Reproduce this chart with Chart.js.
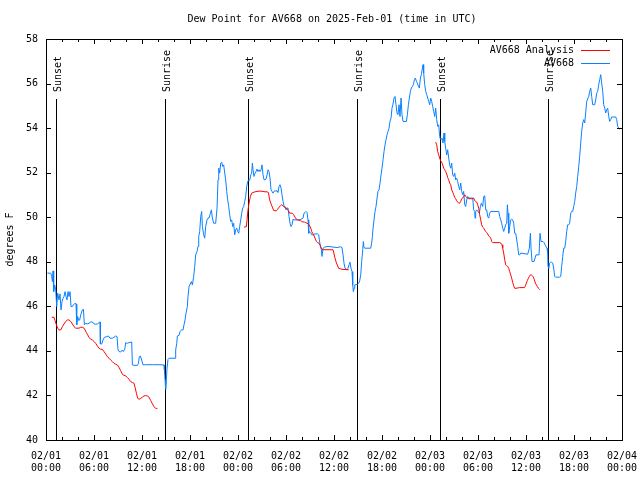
<!DOCTYPE html>
<html>
<head>
<meta charset="utf-8">
<title>Dew Point for AV668</title>
<script src="https://cdn.jsdelivr.net/npm/chart.js@4.4.1/dist/chart.umd.min.js"></script>
<style>
    html, body { margin: 0; padding: 0; background: #fff; }
</style>
</head>
<body>
<canvas id="dewChart" width="640" height="480"></canvas>
<script>
// =======================================
// Dew point chart, gnuplot look
// x values are hours after 02/01 00:00 UTC
// =======================================

const tickDates = ['02/01', '02/01', '02/01', '02/01', '02/02', '02/02', '02/02', '02/02', '02/03', '02/03', '02/03', '02/03', '02/04'];
const tickTimes = ['00:00', '06:00', '12:00', '18:00', '00:00', '06:00', '12:00', '18:00', '00:00', '06:00', '12:00', '18:00', '00:00'];

const sunHours = [1.25, 14.9, 25.25, 38.9, 49.25, 62.75];
const sunLabels = ['Sunset', 'Sunrise', 'Sunset', 'Sunrise', 'Sunset', 'Sunrise'];

// station observations [hour, degF]
const obsSeries = [
    [0.17, 47.49], [0.59, 47.49], [0.71, 47.34], [0.80, 47.11], [0.88, 47.59], [0.96, 46.66], [1.09, 46.96], [1.21, 46.74],
    [1.34, 45.99], [1.46, 46.59], [1.63, 46.29], [1.75, 46.56], [1.88, 45.84], [2.0, 46.21], [2.13, 46.36], [2.25, 46.44],
    [2.38, 46.66], [2.5, 46.44], [2.63, 46.29], [2.75, 46.66], [2.88, 46.44], [3.0, 46.66], [3.13, 45.99], [3.30, 45.99],
    [3.42, 46.06], [3.63, 46.14], [3.75, 46.11], [3.84, 45.17], [3.96, 45.54], [4.09, 45.36], [4.21, 45.39], [4.34, 45.62],
    [4.55, 45.84], [4.67, 45.87], [4.80, 45.17], [4.96, 45.24], [5.17, 45.21], [5.38, 45.24], [5.59, 45.30], [5.80, 45.30],
    [6.0, 45.21], [6.21, 45.20], [6.42, 45.21], [6.63, 45.27], [6.75, 45.30], [6.80, 44.31], [6.96, 44.31], [7.13, 44.49],
    [7.30, 44.61], [7.59, 44.64], [7.80, 44.67], [8.0, 44.57], [8.30, 44.57], [8.50, 44.61], [8.71, 44.67], [8.88, 44.64],
    [9.0, 44.04], [9.13, 43.97], [9.34, 43.95], [9.55, 44.04], [9.67, 43.97], [9.84, 44.07], [9.96, 44.37], [10.17, 44.34],
    [10.38, 44.37], [10.71, 44.40], [10.80, 43.37], [11.0, 43.35], [11.42, 43.35], [11.55, 43.44], [11.67, 43.74], [11.8, 43.77],
    [11.96, 43.59], [12.13, 43.37], [12.46, 43.38], [13.3, 43.38], [14.13, 43.38], [14.75, 43.37], [14.8, 43.14], [14.88, 42.70],
    [14.96, 42.28], [15.05, 42.70], [15.13, 43.22], [15.25, 43.62], [15.38, 43.67], [16.13, 43.67], [16.21, 44.04], [16.34, 44.34],
    [16.42, 44.67], [16.63, 44.70], [16.75, 44.87], [16.96, 44.94], [17.13, 44.94], [17.25, 45.17], [17.38, 45.39], [17.5, 45.69],
    [17.67, 45.99], [17.75, 46.44], [17.88, 46.89], [18.17, 47.11], [18.3, 46.96], [18.46, 47.34], [18.59, 47.79], [18.71, 48.31],
    [18.88, 48.46], [19.0, 48.69], [19.09, 49.13], [19.21, 49.36], [19.34, 50.03], [19.46, 50.26], [19.55, 49.58], [19.71, 49.21],
    [19.84, 49.06], [19.96, 49.58], [20.13, 49.88], [20.25, 49.96], [20.38, 49.96], [20.55, 50.18], [20.67, 50.33], [20.8, 49.96],
    [20.96, 49.73], [21.21, 49.73], [21.38, 50.41], [21.5, 51.68], [21.59, 52.20], [21.71, 51.98], [21.84, 52.43], [21.96, 52.47],
    [22.09, 52.28], [22.21, 52.35], [22.34, 51.98], [22.46, 51.68], [22.59, 51.16], [22.71, 50.78], [22.84, 50.48], [22.96, 50.11],
    [23.09, 49.81], [23.21, 49.88], [23.34, 49.58], [23.46, 49.73], [23.59, 49.21], [23.71, 49.43], [23.84, 49.51], [23.96, 49.36],
    [24.09, 49.28], [24.21, 49.58], [24.34, 49.88], [24.46, 50.18], [24.59, 50.41], [24.71, 50.48], [24.84, 50.71], [24.96, 50.93],
    [25.09, 51.38], [25.21, 51.60], [25.34, 51.68], [25.46, 51.65], [25.59, 51.90], [25.71, 51.98], [25.8, 52.43], [25.88, 52.13],
    [26.0, 51.83], [26.13, 51.98], [26.25, 52.05], [26.38, 52.16], [26.5, 52.05], [26.63, 52.13], [26.75, 52.05], [26.88, 52.13],
    [27.0, 52.35], [27.13, 51.90], [27.25, 51.68], [27.38, 51.68], [27.5, 51.71], [27.63, 51.90], [27.75, 52.13], [27.88, 52.05],
    [28.0, 51.75], [28.13, 51.23], [28.25, 51.16], [28.38, 51.08], [28.5, 51.16], [28.63, 51.19], [28.75, 51.16], [28.88, 51.20],
    [29.0, 51.11], [29.13, 51.38], [29.25, 51.46], [29.38, 51.31], [29.5, 51.01], [29.63, 50.71], [29.75, 50.51], [29.88, 50.45],
    [30.0, 50.33], [30.13, 50.41], [30.25, 50.41], [30.38, 50.03], [30.5, 49.73], [30.63, 49.58], [30.75, 49.66], [30.88, 49.91],
    [31.0, 49.88], [31.63, 49.88], [31.88, 49.91], [32.13, 49.96], [32.25, 50.18], [32.38, 50.21], [32.5, 50.26], [32.63, 50.21],
    [32.75, 49.88], [32.84, 49.28], [32.96, 49.36], [33.09, 49.31], [33.21, 49.21], [33.46, 49.21], [33.59, 49.25], [33.96, 49.25],
    [34.09, 49.21], [34.17, 48.98], [34.3, 48.69], [34.42, 48.54], [34.5, 48.24], [34.63, 48.61], [34.84, 48.66], [35.25, 48.69],
    [35.88, 48.66], [36.38, 48.64], [36.8, 48.67], [37.0, 48.64], [37.13, 48.31], [37.25, 47.94], [37.38, 47.71], [37.63, 47.64],
    [37.75, 47.71], [37.88, 47.86], [38.0, 47.98], [38.13, 47.71], [38.25, 47.56], [38.34, 46.96], [38.42, 46.66], [38.5, 46.81],
    [38.59, 46.96], [38.96, 46.99], [39.09, 47.04], [39.21, 47.14], [39.34, 47.41], [39.46, 48.01], [39.59, 48.54], [39.67, 48.91],
    [39.75, 48.64], [39.88, 48.61], [40.59, 48.61], [40.71, 48.84], [40.8, 49.13], [40.88, 49.51], [41.0, 49.88], [41.13, 50.26],
    [41.25, 50.48], [41.38, 50.86], [41.5, 51.16], [41.63, 51.23], [41.75, 51.53], [41.88, 51.90], [42.0, 52.20], [42.13, 52.58],
    [42.25, 52.95], [42.38, 53.25], [42.5, 53.48], [42.63, 53.70], [42.75, 53.85], [42.88, 54.00], [43.0, 54.30], [43.13, 54.45],
    [43.25, 54.90], [43.38, 55.08], [43.5, 55.35], [43.63, 55.42], [43.75, 55.05], [43.88, 54.68], [44.0, 54.60], [44.13, 55.05],
    [44.25, 54.52], [44.38, 55.35], [44.5, 54.60], [44.63, 54.30], [45.05, 54.30], [45.17, 54.60], [45.3, 55.05], [45.42, 55.35],
    [45.55, 55.65], [45.67, 55.80], [45.8, 55.87], [45.92, 55.95], [46.05, 56.17], [46.17, 56.25], [46.3, 56.10], [46.42, 56.02],
    [46.55, 55.87], [46.67, 55.80], [46.8, 56.25], [46.92, 56.40], [47.05, 56.70], [47.13, 56.85], [47.21, 56.47], [47.34, 55.95],
    [47.46, 55.65], [47.59, 55.50], [47.71, 55.35], [47.84, 55.20], [47.96, 55.05], [48.09, 55.35], [48.21, 55.20], [48.34, 54.97],
    [48.46, 54.75], [48.59, 54.52], [48.71, 54.90], [48.84, 54.38], [48.96, 54.08], [49.09, 54.15], [49.17, 53.78], [49.25, 53.55],
    [49.38, 53.48], [49.5, 53.55], [49.63, 53.33], [49.75, 53.78], [49.84, 53.40], [49.96, 53.10], [50.09, 52.80], [50.21, 53.03],
    [50.34, 52.65], [50.46, 52.35], [50.59, 52.20], [50.71, 52.43], [50.84, 51.90], [50.96, 51.83], [51.09, 51.98], [51.21, 51.68],
    [51.34, 51.75], [51.46, 51.60], [51.59, 51.38], [51.71, 51.23], [51.84, 51.53], [51.96, 51.16], [52.09, 51.01], [52.21, 51.16],
    [52.34, 50.56], [52.46, 50.48], [52.59, 50.78], [52.71, 50.93], [52.84, 50.86], [53.34, 50.86], [53.46, 50.33], [53.59, 50.26],
    [53.63, 49.96], [53.71, 50.26], [53.84, 50.33], [54.17, 50.18], [54.3, 50.48], [54.42, 50.63], [54.59, 50.48], [54.71, 50.93],
    [54.84, 50.96], [54.96, 50.33], [55.09, 50.33], [55.21, 50.03], [55.34, 49.96], [55.46, 50.18], [55.59, 50.26], [56.59, 50.26],
    [56.71, 50.03], [56.84, 49.88], [56.96, 49.73], [57.09, 49.51], [57.21, 49.36], [57.34, 49.51], [57.46, 49.66], [57.59, 49.73],
    [57.67, 50.56], [57.75, 50.18], [57.84, 49.28], [57.96, 49.58], [58.09, 49.88], [58.21, 49.91], [58.34, 49.88], [58.46, 49.73],
    [58.59, 49.28], [58.71, 49.28], [58.84, 48.98], [58.96, 48.69], [59.09, 48.31], [59.21, 48.31], [59.34, 48.39], [60.21, 48.34],
    [60.42, 48.61], [60.55, 49.28], [60.63, 48.61], [60.75, 48.01], [61.0, 48.01], [61.13, 48.16], [61.25, 48.31], [61.63, 48.31],
    [61.75, 49.28], [61.88, 48.91], [62.13, 48.91], [62.25, 48.86], [62.38, 48.76], [62.5, 48.69], [62.63, 48.61], [62.71, 48.39],
    [62.75, 47.79], [62.84, 47.71], [62.96, 47.94], [63.09, 47.98], [63.21, 47.98], [63.34, 47.94], [63.46, 47.71], [63.59, 47.34],
    [63.71, 47.31], [64.21, 47.31], [64.34, 47.34], [64.46, 47.79], [64.59, 48.24], [64.71, 48.61], [64.84, 48.61], [64.96, 48.91],
    [65.09, 49.36], [65.21, 49.66], [65.34, 49.66], [65.46, 49.73], [65.59, 50.18], [65.71, 50.26], [65.84, 50.26], [65.96, 50.48],
    [66.09, 50.71], [66.21, 51.08], [66.34, 51.38], [66.46, 51.83], [66.59, 52.28], [66.71, 52.73], [66.84, 53.33], [66.96, 53.85],
    [67.09, 54.23], [67.21, 54.38], [67.34, 54.23], [67.46, 54.68], [67.59, 55.20], [67.71, 55.31], [67.84, 55.42], [67.96, 55.65],
    [68.09, 55.80], [68.21, 55.42], [68.34, 55.05], [68.59, 55.05], [68.71, 55.27], [68.84, 55.57], [68.96, 55.65], [69.09, 55.95],
    [69.21, 56.17], [69.34, 56.40], [69.46, 56.02], [69.59, 55.65], [69.71, 55.05], [69.84, 54.90], [69.96, 54.68], [70.09, 54.82],
    [70.21, 54.90], [70.34, 54.53], [70.46, 54.30], [70.59, 54.38], [70.71, 54.50], [71.21, 54.50], [71.34, 54.38], [71.46, 54.08],
    [71.59, 54.00], [71.71, 53.96], [71.84, 54.00]
];

// analysis [hour, degF], null breaks the line between runs
const anaSeries = [
    [0.71, 45.51], [1.0, 45.51], [1.13, 45.36], [1.30, 45.17], [1.46, 45.02], [1.63, 44.94], [1.84, 44.94], [2.05, 45.09],
    [2.25, 45.21], [2.46, 45.32], [2.67, 45.39], [2.88, 45.39], [3.09, 45.32], [3.30, 45.21], [3.50, 45.09], [3.71, 45.02],
    [4.13, 45.02], [4.34, 45.06], [4.55, 45.06], [4.75, 45.02], [4.88, 44.94], [5.05, 44.82], [5.21, 44.72], [5.38, 44.61],
    [5.59, 44.52], [5.80, 44.49], [6.0, 44.42], [6.21, 44.34], [6.42, 44.22], [6.63, 44.12], [6.84, 44.07], [7.05, 44.07],
    [7.25, 43.97], [7.46, 43.86], [7.67, 43.74], [7.88, 43.67], [8.09, 43.59], [8.30, 43.52], [8.50, 43.44], [8.71, 43.40],
    [8.92, 43.37], [9.13, 43.26], [9.34, 43.11], [9.55, 42.95], [9.75, 42.90], [9.96, 42.88], [10.17, 42.80], [10.38, 42.73],
    [10.59, 42.62], [10.80, 42.58], [11.0, 42.55], [11.13, 42.37], [11.30, 42.10], [11.46, 41.87], [11.63, 41.83], [11.84, 41.87],
    [12.05, 41.92], [12.25, 41.98], [12.46, 41.99], [12.67, 41.98], [12.88, 41.92], [13.09, 41.77], [13.30, 41.62], [13.50, 41.50],
    [13.71, 41.42], [13.92, 41.42],
    [19.0, null],
    [24.75, 49.55], [25.05, 49.58], [25.13, 49.88], [25.25, 50.33], [25.38, 50.63], [25.55, 50.93], [25.71, 51.08], [25.88, 51.11],
    [26.13, 51.14], [26.38, 51.16], [26.63, 51.17], [26.88, 51.17], [27.13, 51.16], [27.38, 51.14], [27.63, 51.14], [27.80, 51.11],
    [27.96, 50.78], [28.13, 50.60], [28.30, 50.45], [28.46, 50.30], [28.63, 50.29], [28.80, 50.29], [28.96, 50.36], [29.13, 50.45],
    [29.30, 50.51], [29.46, 50.56], [29.63, 50.51], [29.80, 50.45], [29.96, 50.45], [30.13, 50.36], [30.30, 50.30], [30.46, 50.18],
    [30.80, 50.18], [30.96, 50.11], [31.13, 50.00], [31.30, 49.91], [31.46, 49.88], [31.80, 49.85], [31.96, 49.81], [32.13, 49.79],
    [32.30, 49.78], [32.46, 49.76], [32.63, 49.73], [32.80, 49.70], [32.96, 49.61], [33.09, 49.51], [33.21, 49.36], [33.34, 49.28],
    [33.46, 49.21], [33.63, 49.06], [33.80, 48.91], [33.96, 48.86], [34.13, 48.83], [34.30, 48.72], [34.46, 48.57], [34.63, 48.54],
    [35.88, 48.54], [36.1, 48.20], [36.3, 47.95], [36.58, 47.71], [37.0, 47.66], [37.84, 47.64],
    [43.0, null],
    [48.71, 53.37], [48.84, 53.25], [48.96, 52.95], [49.09, 52.80], [49.21, 52.65], [49.34, 52.53], [49.46, 52.47], [49.59, 52.35],
    [49.71, 52.20], [49.84, 52.13], [49.96, 52.05], [50.09, 51.94], [50.21, 51.78], [50.34, 51.68], [50.46, 51.53], [50.59, 51.46],
    [50.71, 51.23], [50.84, 51.13], [50.96, 51.01], [51.09, 50.89], [51.21, 50.83], [51.34, 50.74], [51.46, 50.68], [51.59, 50.63],
    [51.71, 50.63], [51.84, 50.71], [51.96, 50.83], [52.09, 50.86], [52.21, 50.93], [52.34, 51.01], [52.46, 50.93], [52.59, 50.89],
    [52.71, 50.86], [52.84, 50.83], [53.21, 50.83], [53.46, 50.86], [53.59, 50.74], [53.71, 50.71], [53.84, 50.68], [53.96, 50.56],
    [54.09, 50.41], [54.21, 50.11], [54.34, 49.88], [54.46, 49.66], [54.59, 49.55], [54.71, 49.51], [54.84, 49.43], [54.96, 49.36],
    [55.09, 49.31], [55.21, 49.25], [55.34, 49.16], [55.46, 49.13], [55.59, 49.06], [55.71, 48.91], [55.84, 48.86], [56.67, 48.86],
    [56.88, 48.83], [57.0, 48.76], [57.09, 48.61], [57.21, 48.39], [57.34, 48.09], [57.46, 47.86], [57.59, 47.82], [57.71, 47.79],
    [57.84, 47.71], [57.96, 47.56], [58.09, 47.41], [58.21, 47.26], [58.34, 47.07], [58.46, 46.92], [58.59, 46.81], [58.75, 46.81],
    [59.17, 46.84], [59.80, 46.84], [59.92, 46.92], [60.05, 47.04], [60.17, 47.16], [60.30, 47.26], [60.42, 47.34], [60.55, 47.41],
    [60.67, 47.41], [60.80, 47.37], [60.92, 47.31], [61.05, 47.19], [61.17, 47.04], [61.30, 46.96], [61.42, 46.89], [61.55, 46.81],
    [61.67, 46.77], [61.75, 46.74]
];

const seriesNames = ['AV668 Analysis', 'AV668'];
const seriesColors = ['#ff0000', '#0a80ff'];

const MONO = '"DejaVu Sans Mono", "Liberation Mono", monospace';

// Frame, inward ticks, sun markers, title and legend drawn gnuplot style
const gnuplotFrame = {
    id: 'gnuplotFrame',
    beforeDatasetsDraw(chart) {
        const { ctx, chartArea: a, scales: { x } } = chart;
        ctx.save();
        ctx.strokeStyle = '#000';
        ctx.fillStyle = '#000';
        ctx.lineWidth = 1;
        ctx.font = '10px ' + MONO;
        sunHours.forEach((h, i) => {
            const px = Math.round(x.getPixelForValue(h)) + 0.5;
            ctx.beginPath();
            ctx.moveTo(px, a.top + 60);
            ctx.lineTo(px, a.bottom);
            ctx.stroke();
            ctx.save();
            ctx.translate(px + 4, a.top + 53);
            ctx.rotate(-Math.PI / 2);
            ctx.textAlign = 'left';
            ctx.textBaseline = 'alphabetic';
            ctx.fillText(sunLabels[i], 0, 0);
            ctx.restore();
        });
        ctx.restore();
    },
    afterDraw(chart) {
        const { ctx, chartArea: a, scales: { x, y } } = chart;
        ctx.save();
        ctx.strokeStyle = '#000';
        ctx.lineWidth = 1;

        // border
        ctx.strokeRect(Math.round(a.left) + 0.5, Math.round(a.top) + 0.5,
            Math.round(a.right - a.left), Math.round(a.bottom - a.top));

        // x ticks, major every 6h, minor every 2h, on top and bottom
        ctx.beginPath();
        for (let h = x.min; h <= x.max; h += 2) {
            const px = Math.round(x.getPixelForValue(h)) + 0.5;
            const len = h % 6 === 0 ? 5 : 3;
            ctx.moveTo(px, a.bottom);
            ctx.lineTo(px, a.bottom - len);
            ctx.moveTo(px, a.top);
            ctx.lineTo(px, a.top + len);
        }
        // y ticks, left and right
        y.ticks.forEach(t => {
            const py = Math.round(y.getPixelForValue(t.value)) + 0.5;
            ctx.moveTo(a.left, py);
            ctx.lineTo(a.left + 5, py);
            ctx.moveTo(a.right, py);
            ctx.lineTo(a.right - 5, py);
        });
        ctx.stroke();

        ctx.fillStyle = '#000';
        ctx.font = '10px ' + MONO;

        // title
        ctx.textAlign = 'center';
        ctx.textBaseline = 'middle';
        ctx.fillText('Dew Point for AV668 on 2025-Feb-01 (time in UTC)', (a.left + a.right) / 2 - 2, 19);

        // y axis title
        ctx.save();
        ctx.translate(10, (a.top + a.bottom) / 2);
        ctx.rotate(-Math.PI / 2);
        ctx.fillText('degrees F', 0, 0);
        ctx.restore();

        // legend, text right aligned with line sample after it
        ctx.textAlign = 'right';
        seriesNames.forEach((name, i) => {
            const ly = a.top + 11 + i * 13;
            ctx.fillStyle = '#000';
            ctx.fillText(name, a.right - 48, ly);
            ctx.strokeStyle = seriesColors[i];
            ctx.beginPath();
            ctx.moveTo(a.right - 41, Math.round(ly) + 0.5);
            ctx.lineTo(a.right - 12, Math.round(ly) + 0.5);
            ctx.stroke();
        });
        ctx.restore();
    }
};

const ctx = document.getElementById('dewChart');

new Chart(ctx, {
    type: 'line',
    data: {
        datasets: [
            {
                label: seriesNames[0],
                data: anaSeries.map(([h, v]) => ({ x: h, y: v })),
                borderColor: seriesColors[0],
                borderWidth: 1,
                spanGaps: false
            },
            {
                label: seriesNames[1],
                data: obsSeries.map(([h, v]) => ({ x: h, y: v })),
                borderColor: seriesColors[1],
                borderWidth: 1
            }
        ]
    },
    options: {
        responsive: false,
        animation: false,
        layout: { padding: { top: 39, right: 18, left: 0, bottom: 0 } },
        elements: {
            point: { radius: 0 },
            line: { tension: 0 }
        },
        plugins: {
            legend: { display: false },
            tooltip: { enabled: false },
            title: { display: false }
        },
        scales: {
            x: {
                type: 'linear',
                min: 0,
                max: 72,
                grid: { display: false, drawTicks: false },
                border: { display: false },
                ticks: {
                    stepSize: 6,
                    autoSkip: false,
                    maxRotation: 0,
                    padding: 10,
                    color: '#000',
                    font: { family: MONO, size: 10, lineHeight: 1.2 },
                    callback: v => [tickDates[v / 6], tickTimes[v / 6]]
                },
                // keep the edge labels from shrinking the plot area
                afterFit: s => { s.height = 40; s.paddingLeft = 0; s.paddingRight = 0; }
            },
            y: {
                min: 40,
                max: 58,
                grid: { display: false, drawTicks: false },
                border: { display: false },
                ticks: {
                    stepSize: 2,
                    padding: 8,
                    color: '#000',
                    font: { family: MONO, size: 10 }
                },
                afterFit: s => { s.width = 46; s.paddingTop = 0; s.paddingBottom = 0; }
            }
        }
    },
    plugins: [gnuplotFrame]
});
</script>
</body>
</html>
